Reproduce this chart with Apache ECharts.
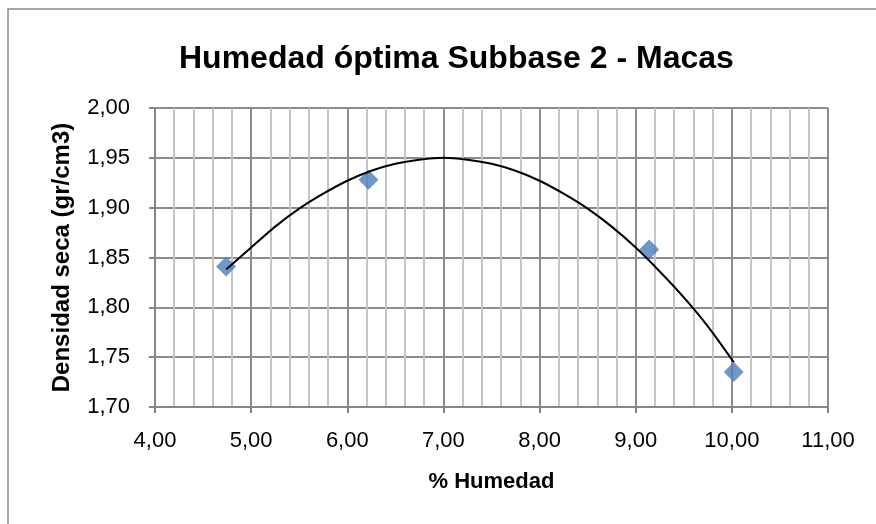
<!DOCTYPE html>
<html>
<head>
<meta charset="utf-8">
<script src="https://cdn.jsdelivr.net/npm/echarts@6/dist/echarts.min.js"></script>
<style>
  html, body { margin: 0; padding: 0; background: #fff; }
  #chart { width: 876px; height: 524px; }
</style>
</head>
<body>
<div id="chart"></div>
<script>
// measured points (% humedad, densidad seca)
var humedad = [4.74, 6.22, 9.14, 10.02];
var densidad = [1.841, 1.928, 1.858, 1.735];

// trend curve
var curveX = [4.74, 5.0, 5.25, 5.5, 5.75, 6.0, 6.25, 6.5, 6.75, 7.0, 7.25, 7.5, 7.75, 8.0, 8.25, 8.5, 8.75, 9.0, 9.25, 9.5, 9.75, 10.02];
var curveY = [1.838, 1.860, 1.881, 1.899, 1.914, 1.927, 1.937, 1.944, 1.948, 1.950, 1.948, 1.944, 1.937, 1.927, 1.914, 1.899, 1.881, 1.860, 1.836, 1.810, 1.781, 1.745];

var font = "'Liberation Sans', Arial, sans-serif";

function comma(v) {
  return v.toFixed(2).replace('.', ',');
}

var chart = echarts.init(document.getElementById('chart'));
chart.setOption({
  animation: false,
  backgroundColor: '#fff',
  textStyle: { fontFamily: font },
  title: {
    text: 'Humedad óptima Subbase 2 - Macas',
    left: 174,
    top: 38,
    textStyle: { fontSize: 32, fontWeight: 'bold', color: '#000', fontFamily: font }
  },
  graphic: [{
    type: 'rect',
    shape: { x: 8, y: 9, width: 900, height: 540 },
    style: { fill: 'none', stroke: '#8a8a8a', lineWidth: 1.5 },
    silent: true
  }],
  grid: { left: 155, right: 48, top: 108, bottom: 117 },
  xAxis: {
    type: 'value',
    min: 4, max: 11, interval: 1,
    name: '% Humedad',
    nameLocation: 'middle',
    nameGap: 64,
    nameTextStyle: { fontSize: 22, fontWeight: 'bold', color: '#000' },
    axisLine: { show: true, lineStyle: { color: '#868686', width: 2 } },
    axisTick: { show: true, length: 6, lineStyle: { color: '#868686', width: 2 } },
    axisLabel: { formatter: comma, fontSize: 22, color: '#000', margin: 23 },
    splitLine: { show: true, lineStyle: { color: '#8c8c8c', width: 2 } },
    minorTick: { show: false, splitNumber: 5 },
    minorSplitLine: { show: true, lineStyle: { color: '#c4c4c4', width: 2 } }
  },
  yAxis: {
    type: 'value',
    min: 1.70, max: 2.00, interval: 0.05,
    name: 'Densidad seca (gr/cm3)',
    nameLocation: 'middle',
    nameGap: 81,
    nameTextStyle: { fontSize: 24, fontWeight: 'bold', color: '#000' },
    axisLine: { show: true, lineStyle: { color: '#868686', width: 2 } },
    axisTick: { show: true, length: 6, lineStyle: { color: '#868686', width: 2 } },
    axisLabel: { formatter: comma, fontSize: 22, color: '#000', margin: 25 },
    splitLine: { show: true, lineStyle: { color: '#8c8c8c', width: 2 } }
  },
  series: [
    {
      name: 'Tendencia',
      type: 'line',
      data: curveX.map(function (x, i) { return [x, curveY[i]]; }),
      smooth: 0.3,
      showSymbol: false,
      lineStyle: { color: '#000', width: 2 },
      z: 3
    },
    {
      name: 'Densidad',
      type: 'scatter',
      data: humedad.map(function (x, i) { return [x, densidad[i]]; }),
      symbol: 'diamond',
      symbolSize: [20, 20],
      itemStyle: { color: '#4a7ebb' },
      z: 2
    }
  ]
});
</script>
</body>
</html>
